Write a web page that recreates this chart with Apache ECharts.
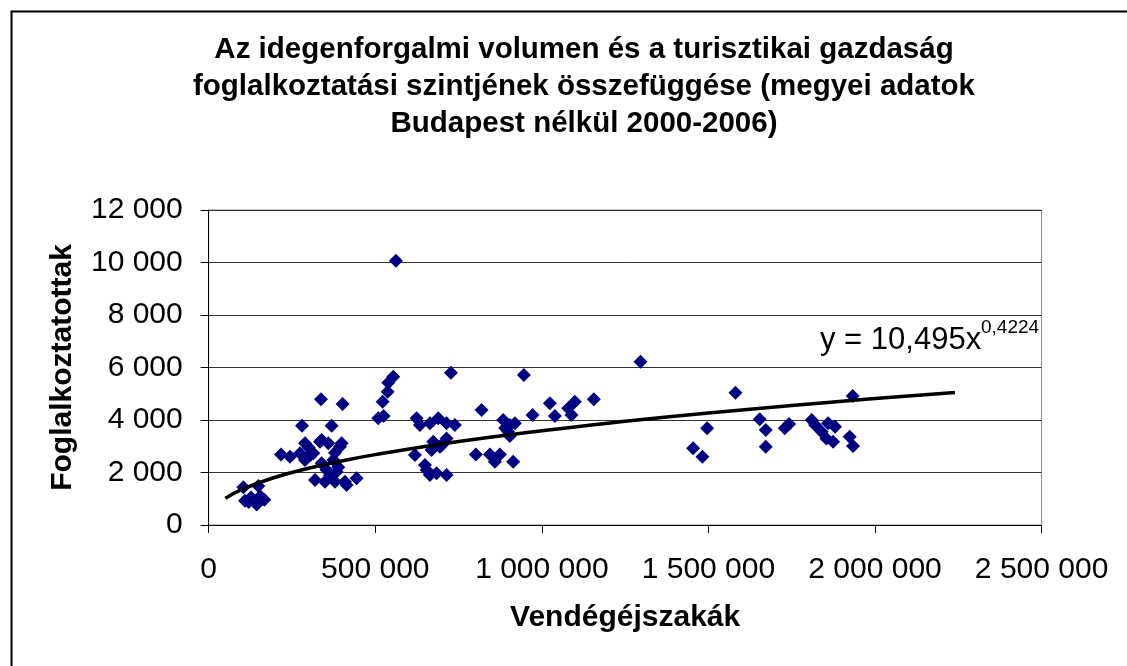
<!DOCTYPE html>
<html lang="hu">
  <head>
    <meta charset="UTF-8" />
    <title>Vendégéjszakák és foglalkoztatottak</title>
    <style>
      * {
        padding: 0;
        margin: 0;
      }
    </style>
    <script src="https://cdn.jsdelivr.net/npm/echarts@6/dist/echarts.min.js"></script>
  </head>
  <body>
    <div id="main" style="width: 1127px; height: 666px;"></div>
    <script type="text/javascript">
      // megyei pontok [vendégéjszakák, foglalkoztatottak]
      var smallCounties = [
        [104000, 1435], [149000, 1485], [109000, 925], [127000, 1050],
        [144000, 780], [167000, 960], [120000, 880], [155000, 1100]
      ];
      var lowCounties = [
        [217000, 2690], [244000, 2600], [280000, 3780], [289000, 3110],
        [274000, 2730], [289000, 2480], [305000, 2670], [314000, 2730],
        [300000, 2950], [337000, 4790], [402000, 4610], [369000, 3780],
        [334000, 3170], [359000, 3110], [399000, 3110], [379000, 2750],
        [339000, 3240], [394000, 2980], [374000, 2480], [339000, 2350],
        [319000, 1715], [349000, 1650], [379000, 1650], [414000, 1525],
        [444000, 1780], [384000, 2030], [354000, 2095], [409000, 1650],
        [389000, 2200], [364000, 1900]
      ];
      var midCounties = [
        [562000, 10070], [554000, 5650], [539000, 5420], [537000, 5080],
        [522000, 4700], [509000, 4065], [525000, 4150],
        [624000, 4065], [634000, 3810], [664000, 3875], [689000, 4065],
        [714000, 3875], [739000, 3810], [674000, 3175], [714000, 3300],
        [694000, 2985], [669000, 2860], [619000, 2670], [649000, 2290],
        [664000, 1905], [684000, 1970], [714000, 1905], [654000, 2095],
        [727000, 5800], [700000, 3050]
      ];
      var upperCounties = [
        [819000, 4380], [946000, 5715], [1296000, 6220], [1024000, 4635],
        [1039000, 4150], [972000, 4190], [1079000, 4445], [1099000, 4700],
        [1089000, 4190], [1156000, 4790], [884000, 4000], [904000, 3810],
        [919000, 3875], [899000, 3555], [904000, 3390], [802000, 2690],
        [844000, 2690], [874000, 2690], [859000, 2410], [914000, 2410],
        [890000, 3700]
      ];
      var bigCounties = [
        [1454000, 2920], [1482000, 2600], [1496000, 3685], [1581000, 5040],
        [1654000, 4030], [1672000, 3620], [1672000, 2985], [1742000, 3850],
        [1729000, 3685], [1810000, 4000], [1820000, 3810], [1859000, 3875],
        [1880000, 3745], [1840000, 3555], [1854000, 3300], [1874000, 3175],
        [1924000, 3365], [1934000, 3010], [1933000, 4915]
      ];

      // trendvonal pontjai
      var trendX = [50000, 100000, 200000, 300000, 400000, 500000, 750000,
        1000000, 1250000, 1500000, 1750000, 2000000, 2240000];
      var trendY = [1013, 1358, 1820, 2161, 2440, 2681, 3181,
        3593, 3949, 4265, 4549, 4816, 5050];

      var yTicks = [0, 2000, 4000, 6000, 8000, 10000, 12000];
      var xTicks = [0, 500000, 1000000, 1500000, 2000000, 2500000];

      var points = [].concat(smallCounties, lowCounties, midCounties, upperCounties, bigCounties);
      var trend = trendX.map(function (x, i) { return [x, trendY[i]]; });

      function spaced(v) {
        return String(v).replace(/\B(?=(\d{3})+(?!\d))/g, ' ');
      }

      var font = '"Liberation Sans", Arial, sans-serif';
      var myChart = echarts.init(document.getElementById('main'));

      var option = {
        backgroundColor: '#fff',
        animation: false,
        title: {
          text: 'Az idegenforgalmi volumen és a turisztikai gazdaság\nfoglalkoztatási szintjének összefüggése (megyei adatok\nBudapest nélkül 2000-2006)',
          left: 579,
          top: 26,
          textAlign: 'center',
          textStyle: {
            fontFamily: font,
            fontSize: 29.5,
            fontWeight: 'bold',
            color: '#000',
            lineHeight: 37
          }
        },
        grid: {
          left: 208.7,
          top: 210,
          right: 85.4,
          bottom: 141,
          show: true,
          borderColor: '#888',
          borderWidth: 1,
          backgroundColor: '#fff'
        },
        xAxis: {
          type: 'value',
          min: xTicks[0],
          max: xTicks[xTicks.length - 1],
          interval: 500000,
          name: 'Vendégéjszakák',
          nameLocation: 'middle',
          nameGap: 78,
          nameTextStyle: { fontFamily: font, fontSize: 30, fontWeight: 'bold', color: '#000' },
          axisLine: { lineStyle: { color: '#000', width: 1 } },
          axisTick: { show: true, inside: false, length: 8, lineStyle: { color: '#000' } },
          axisLabel: {
            margin: 30,
            fontFamily: font,
            fontSize: 30,
            color: '#000',
            formatter: spaced
          },
          splitLine: { show: false }
        },
        yAxis: {
          type: 'value',
          min: yTicks[0],
          max: yTicks[yTicks.length - 1],
          interval: 2000,
          name: 'Foglalkoztatottak',
          nameLocation: 'middle',
          nameGap: 131,
          nameTextStyle: { fontFamily: font, fontSize: 30, fontWeight: 'bold', color: '#000' },
          axisLine: { show: true, lineStyle: { color: '#000', width: 1 } },
          axisTick: { show: true, inside: false, length: 8, lineStyle: { color: '#000' } },
          axisLabel: {
            margin: 26,
            fontFamily: font,
            fontSize: 30,
            color: '#000',
            formatter: spaced
          },
          splitLine: { show: true, lineStyle: { color: '#333', width: 1 } }
        },
        series: [
          {
            type: 'scatter',
            data: points,
            symbol: 'diamond',
            symbolSize: 14,
            itemStyle: { color: '#000080', opacity: 1 },
            z: 2
          },
          {
            type: 'line',
            data: trend,
            smooth: true,
            showSymbol: false,
            lineStyle: { color: '#000', width: 3.5 },
            z: 3
          }
        ],
        graphic: [
          {
            type: 'rect',
            left: 9,
            top: 9,
            shape: { width: 1130, height: 670 },
            style: { fill: null, stroke: '#000', lineWidth: 2 },
            silent: true
          },
          {
            type: 'text',
            style: {
              x: 820,
              y: 356,
              text: 'y = 10,495x',
              fontFamily: font,
              fontSize: 31,
              fill: '#000',
              verticalAlign: 'bottom'
            },
            z: 10
          },
          {
            type: 'text',
            style: {
              x: 981,
              y: 337,
              text: '0,4224',
              fontFamily: font,
              fontSize: 19,
              fill: '#000',
              verticalAlign: 'bottom'
            },
            z: 10
          }
        ]
      };

      myChart.setOption(option, true);
    </script>
  </body>
</html>
